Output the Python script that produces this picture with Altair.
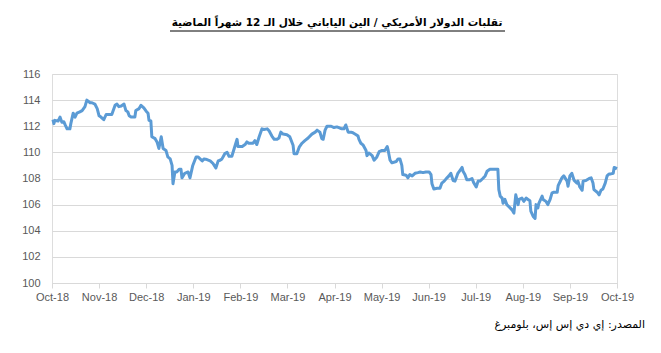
import altair as alt
import pandas as pd

title_text = "تقلبات الدولار الأمريكي / الين الياباني خلال الـ 12 شهراً الماضية"
source_text = "المصدر: إي دي إس إس، بلومبرغ"

month_labels = ["Oct-18", "Nov-18", "Dec-18", "Jan-19", "Feb-19", "Mar-19", "Apr-19",
                "May-19", "Jun-19", "Jul-19", "Aug-19", "Sep-19", "Oct-19"]
y_ticks = [100, 102, 104, 106, 108, 110, 112, 114, 116]

# time in months since 1 Oct 2018
months = [0.02, 0.04, 0.06, 0.13, 0.17, 0.21, 0.25, 0.28, 0.32, 0.38, 0.40, 0.45, 0.49, 0.53,
          0.59, 0.64, 0.70, 0.74, 0.81, 0.85, 0.91, 0.96, 1.00, 1.04, 1.10, 1.15, 1.21, 1.27,
          1.34, 1.38, 1.42, 1.47, 1.53, 1.57, 1.61, 1.64, 1.68, 1.76, 1.78, 1.85, 1.89, 1.95,
          2.00, 2.04, 2.06, 2.10, 2.12, 2.19, 2.23, 2.27, 2.32, 2.36, 2.42, 2.46, 2.51, 2.55,
          2.57, 2.61, 2.65, 2.70, 2.74, 2.76, 2.82, 2.89, 2.93, 2.99, 3.06, 3.10, 3.19, 3.23,
          3.29, 3.36, 3.42, 3.48, 3.53, 3.57, 3.61, 3.67, 3.72, 3.76, 3.82, 3.87, 3.93, 3.95,
          4.04, 4.10, 4.14, 4.18, 4.27, 4.31, 4.35, 4.40, 4.46, 4.50, 4.57, 4.61, 4.67, 4.72,
          4.78, 4.82, 4.86, 4.91, 4.99, 5.05, 5.12, 5.14, 5.20, 5.25, 5.31, 5.37, 5.44, 5.52,
          5.59, 5.63, 5.69, 5.73, 5.76, 5.80, 5.84, 5.93, 5.99, 6.05, 6.12, 6.16, 6.20, 6.24,
          6.29, 6.35, 6.39, 6.46, 6.50, 6.52, 6.56, 6.61, 6.67, 6.69, 6.73, 6.80, 6.84, 6.90,
          6.95, 7.01, 7.07, 7.12, 7.14, 7.18, 7.22, 7.31, 7.35, 7.39, 7.43, 7.45, 7.52, 7.56,
          7.60, 7.65, 7.71, 7.77, 7.82, 7.88, 7.94, 8.01, 8.05, 8.07, 8.11, 8.18, 8.24, 8.28,
          8.33, 8.39, 8.43, 8.47, 8.52, 8.56, 8.60, 8.62, 8.67, 8.71, 8.73, 8.77, 8.81, 8.86,
          8.92, 8.96, 9.01, 9.05, 9.09, 9.15, 9.20, 9.24, 9.30, 9.37, 9.43, 9.47, 9.49, 9.52,
          9.56, 9.58, 9.62, 9.66, 9.73, 9.77, 9.81, 9.85, 9.90, 9.92, 9.98, 10.02, 10.07, 10.11,
          10.15, 10.17, 10.22, 10.26, 10.28, 10.32, 10.34, 10.41, 10.43, 10.49, 10.53, 10.58,
          10.62, 10.66, 10.73, 10.75, 10.79, 10.83, 10.87, 10.94, 10.96, 11.00, 11.04, 11.09,
          11.15, 11.17, 11.21, 11.26, 11.28, 11.34, 11.41, 11.45, 11.49, 11.51, 11.58, 11.62,
          11.66, 11.70, 11.75, 11.79, 11.83, 11.87, 11.92, 11.94, 12.00]

usdjpy = [112.5, 112.2, 112.45, 112.4, 112.7, 112.3, 112.35, 112.1, 111.8, 111.8, 112.2, 113.0,
          112.7, 113.0, 113.1, 113.2, 113.5, 114.0, 113.8, 113.8, 113.7, 113.35, 112.8, 112.7,
          112.5, 112.9, 112.9, 112.9, 113.6, 113.7, 113.5, 113.55, 113.7, 113.2, 113.1, 112.8,
          112.7, 112.7, 113.2, 113.35, 113.6, 113.4, 113.15, 113.0, 112.45, 112.4, 111.2, 111.05,
          110.8, 110.3, 111.2, 110.3, 110.15, 109.65, 109.5, 109.0, 107.6, 108.5, 108.5, 108.7,
          108.7, 108.05, 108.4, 108.5, 108.05, 109.0, 109.65, 109.65, 109.35, 109.5, 109.45,
          109.35, 109.15, 108.8, 109.35, 109.4, 109.5, 109.9, 110.0, 109.7, 109.7, 110.3, 111.0,
          110.45, 110.45, 110.6, 110.8, 110.7, 110.7, 110.9, 110.6, 111.2, 111.8, 111.75, 111.8,
          111.65, 111.25, 111.0, 111.0, 111.1, 111.55, 111.4, 111.35, 111.2, 110.55, 109.9,
          109.9, 110.4, 110.7, 110.9, 111.1, 111.4, 111.55, 111.7, 111.55, 111.05, 111.0, 111.7,
          112.0, 112.0, 111.9, 111.95, 111.85, 111.8, 111.8, 112.1, 111.55, 111.55, 111.5,
          111.35, 111.25, 111.0, 110.7, 110.55, 110.15, 109.75, 109.95, 109.75, 109.4, 109.65,
          110.05, 110.15, 110.15, 110.45, 110.15, 109.4, 109.2, 109.3, 109.5, 109.5, 109.0,
          108.3, 108.25, 108.05, 108.3, 108.2, 108.4, 108.45, 108.5, 108.45, 108.5, 108.5,
          108.3, 107.6, 107.2, 107.25, 107.25, 107.65, 107.8, 108.05, 108.2, 108.4, 107.85,
          107.8, 108.2, 108.4, 108.65, 108.85, 108.55, 108.3, 107.9, 107.9, 108.0, 107.65,
          107.35, 107.8, 107.8, 108.0, 108.2, 108.55, 108.7, 108.7, 108.7, 108.7, 107.15,
          106.65, 106.5, 106.1, 106.4, 106.0, 105.75, 105.6, 105.35, 106.75, 106.0, 106.4,
          106.5, 106.25, 106.5, 106.4, 106.3, 105.5, 105.1, 104.95, 106.0, 105.75, 106.1,
          106.65, 106.4, 106.25, 106.0, 106.4, 106.9, 106.95, 106.95, 107.45, 107.75, 108.05,
          108.2, 107.8, 107.4, 108.2, 108.4, 107.85, 107.65, 107.8, 107.35, 107.1, 107.8,
          107.85, 108.0, 108.05, 107.65, 107.15, 106.95, 106.75, 107.1, 107.2, 107.65, 108.2,
          108.35, 108.35, 108.4, 108.85, 108.75]

df = pd.DataFrame({"m": months, "v": usdjpy})

label_expr = "[" + ",".join(f"'{s}'" for s in month_labels) + "][round(datum.value)]"

axis_font = "Liberation Sans Narrow, Arial Narrow, Liberation Sans, Arial, sans-serif"

line = alt.Chart(df).mark_line(color="#5B9BD5", strokeWidth=3, strokeJoin="round").encode(
    x=alt.X("m:Q", scale=alt.Scale(domain=[0, 12], nice=False, zero=False),
            axis=alt.Axis(values=list(range(13)), labelExpr=label_expr, title=None,
                          grid=False, domain=True, domainColor="#d9d9d9", ticks=True,
                          tickColor="#d9d9d9", tickSize=5, labelPadding=3,
                          labelFont=axis_font, labelFontSize=11, labelColor="#595959",
                          labelFlush=False, labelOverlap=False)),
    y=alt.Y("v:Q", scale=alt.Scale(domain=[100, 116], nice=False, zero=False),
            axis=alt.Axis(values=y_ticks, title=None, grid=True, gridColor="#d9d9d9",
                          domain=False, ticks=False, labelPadding=12,
                          labelFont=axis_font, labelFontSize=11, labelColor="#595959")),
)

title = alt.Chart(pd.DataFrame({"t": [title_text]})).mark_text(
    font="DejaVu Sans", fontSize=10.5, fontWeight="bold", color="#000000",
    align="center", baseline="alphabetic"
).encode(text="t:N", x=alt.value(285), y=alt.value(-48))

underline = alt.Chart(pd.DataFrame({"t": [title_text]})).mark_rule(
    color="#000000", strokeWidth=1
).encode(x=alt.value(118), x2=alt.value(453), y=alt.value(-43))

source = alt.Chart(pd.DataFrame({"t": [source_text]})).mark_text(
    font="DejaVu Sans", fontSize=11, color="#000000", align="right", baseline="middle"
).encode(text="t:N", x=alt.value(593), y=alt.value(251))

chart = alt.layer(line, title, underline, source).properties(
    width=565, height=209,
    autosize=alt.AutoSizeParams(type="none"),
    padding={"left": 52, "top": 74, "right": 44, "bottom": 70},
).configure_view(stroke=None).configure(background="#ffffff")

chart.save("out.html", embed_options={"renderer": "svg", "actions": False})
